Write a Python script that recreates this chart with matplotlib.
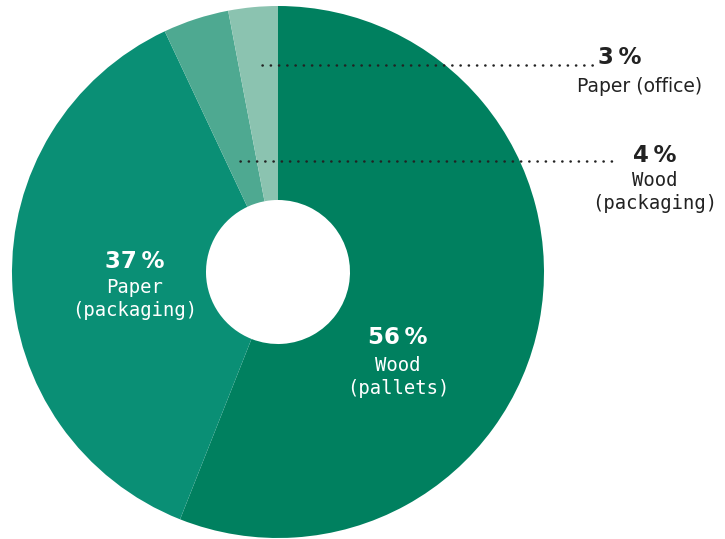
import matplotlib
matplotlib.use("Agg")
import matplotlib.pyplot as plt

# data
labels = ["Wood\n(pallets)", "Paper\n(packaging)", "Wood\n(packaging)", "Paper (office)"]
shares = [56, 37, 4, 3]
colors = ["#00805f", "#0a8f75", "#4ea991", "#8bc3b0"]

W, H = 725, 539
fig = plt.figure(figsize=(W / 100, H / 100), dpi=100)
ax = fig.add_axes([0, 0, 1, 1])

cx, cy = 278, H - 272
R, r_hole = 266, 72

ax.pie(shares, colors=colors, startangle=90, counterclock=False,
       radius=R, center=(cx, cy),
       wedgeprops=dict(width=R - r_hole, linewidth=0))
ax.set_xlim(0, W)
ax.set_ylim(0, H)
ax.set_aspect("equal")
ax.axis("off")

bold = dict(family=["DejaVu Sans"], fontweight="bold", fontsize=16.5)
mono = dict(family=["DejaVu Sans Mono"], fontsize=13.6, linespacing=1.3)
sans = dict(family=["DejaVu Sans"], fontsize=13.5)

def pct(v):
    return f"{v}\u2009%"

# inner labels
ax.text(398, H - 338, pct(shares[0]), color="white", ha="center", va="center", **bold)
ax.text(398, H - 377, labels[0], color="white", ha="center", va="center", **mono)
ax.text(135, H - 262, pct(shares[1]), color="white", ha="center", va="center", **bold)
ax.text(135, H - 299, labels[1], color="white", ha="center", va="center", **mono)

# outer labels with dotted leaders
dark = "#222222"
ax.plot([262, 600], [H - 65, H - 65], color=dark, lw=1.8,
        linestyle=(0, (0.1, 3.2)), dash_capstyle="round")
ax.text(620, H - 58, pct(shares[3]), color=dark, ha="center", va="center", **bold)
ax.text(640, H - 87, labels[3], color=dark, ha="center", va="center", **sans)

ax.plot([240, 614], [H - 161, H - 161], color=dark, lw=1.8,
        linestyle=(0, (0.1, 3.2)), dash_capstyle="round")
ax.text(655, H - 155, pct(shares[2]), color=dark, ha="center", va="center", **bold)
ax.text(655, H - 192, labels[2], color=dark, ha="center", va="center", **mono)

fig.savefig("out.png", dpi=100)
